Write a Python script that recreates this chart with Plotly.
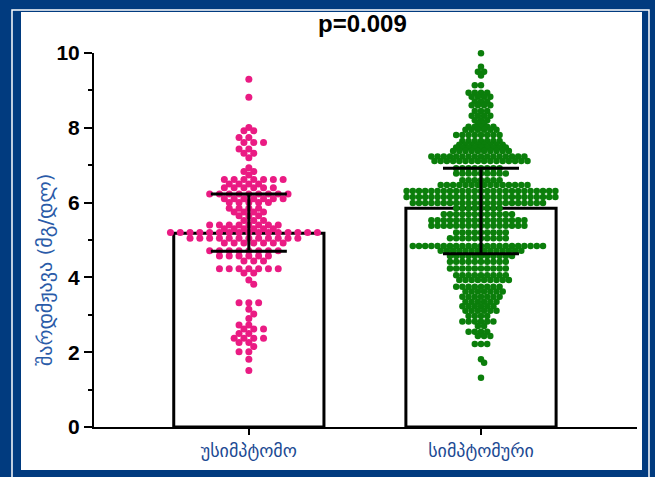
import numpy as np
import plotly.graph_objects as go

# ---------------- data ----------------
categories = ["უსიმპტომო", "სიმპტომური"]
bar_values = [5.18, 5.85]          # bar height (central value)
err_upper = [6.23, 6.92]           # upper whisker
err_lower = [4.70, 4.63]           # lower whisker

pink_levels = [9.30, 8.82, 8.01, 7.92, 7.74, 7.61, 7.43, 7.32, 7.20, 6.93, 6.83, 6.74,
               6.62, 6.50, 6.40, 6.23, 6.10, 6.00, 5.85, 5.75, 5.65, 5.52, 5.40, 5.30,
               5.20, 5.05, 4.92, 4.71, 4.57, 4.44, 4.23, 4.12,
               3.93, 3.82, 3.32, 3.15, 3.02, 2.90, 2.73, 2.62, 2.50, 2.37, 2.26, 2.15,
               2.01, 1.81, 1.51]
pink_counts = [1, 1, 1, 2, 2, 3, 2, 2, 1, 1, 2, 1,
               7, 4, 6, 9, 7, 5, 4, 4, 3, 3, 8, 6,
               16, 12, 7, 8, 6, 3, 7, 2,
               1, 1, 3, 1, 1, 1, 2, 3, 2, 4, 2, 1,
               2, 1, 1]

green_levels = [9.99, 9.63, 9.50, 9.40, 9.14, 8.94, 8.83, 8.70, 8.60, 8.45, 8.32, 8.20,
                8.12, 8.03, 7.95, 7.81, 7.65, 7.55, 7.47, 7.38,
                7.23, 7.11, 6.92, 6.78, 6.60, 6.47, 6.31, 6.15, 5.99, 5.85, 5.69, 5.53,
                5.38, 5.20, 5.05, 4.84, 4.71, 4.57, 4.42,
                4.24, 4.06, 3.93, 3.75, 3.62, 3.48, 3.35, 3.23, 3.11, 2.97, 2.82, 2.70,
                2.55, 2.43, 2.22, 1.81, 1.72, 1.32]
green_counts = [1, 1, 2, 1, 2, 4, 4, 3, 4, 3, 4, 3,
                2, 5, 6, 8, 7, 8, 9, 10,
                16, 16, 8, 9, 7, 15, 25, 25, 22, 8, 12, 16,
                16, 9, 10, 22, 14, 11, 10,
                10, 9, 9, 8, 7, 7, 6, 6, 6, 4, 6, 2,
                4, 3, 3, 1, 1, 1]

y_ticks = [0, 2, 4, 6, 8, 10]

# ---------------- geometry ----------------
W, H = 655, 477
ML, MR, MT, MB = 94, 18, 53, 50
XR = [-0.667, 1.672]
YR = [0, 10]
plot_w = W - ML - MR
plot_h = H - MT - MB
px_per_x = plot_w / (XR[1] - XR[0])
px_per_y = plot_h / (YR[1] - YR[0])

PINK = "#EA1B83"
GREEN = "#0B7E0B"
FRAME = "#013B7F"
LABEL_BLUE = "#1C4A93"
TITLE_BLUE = "#2A5BA8"


def swarm(levels, counts, center, step_px, adj_px=5.2):
    """Prism-like dot layout: dots of a row are spaced step_px apart on a
    half-step grid; rows closer than adj_px must not share a column."""
    placed = []  # (y_px, k)
    xs, ys = [], []
    for lvl, n in sorted(zip(levels, counts), key=lambda t: -t[0]):
        ypx = lvl * px_per_y
        blocked = set(k for (yy, k) in placed if 0.5 <= abs(yy - ypx) < adj_px)
        used = []
        side = 1
        for _ in range(n):
            best = None
            a = 0
            while best is None:
                cands = [0] if a == 0 else [a * side, -a * side]
                for k in cands:
                    if k not in blocked and all(abs(k - u) >= 2 for u in used):
                        best = k
                        break
                a += 1
            used.append(best)
            side = -side
        for k in used:
            placed.append((ypx, k))
            xs.append(center + k * (step_px / 2) / px_per_x)
            ys.append(lvl)
    return xs, ys


px_, py_ = swarm(pink_levels, pink_counts, 0, 9.8)
gx_, gy_ = swarm(green_levels, green_counts, 1, 6.2)

fig = go.Figure()
fig.add_trace(go.Bar(
    x=[0, 1], y=bar_values, width=0.647,
    marker=dict(color="white", line=dict(color="black", width=3)),
    hoverinfo="skip", showlegend=False))
fig.add_trace(go.Scatter(
    x=px_, y=py_, mode="markers", cliponaxis=False,
    marker=dict(size=7, color=PINK, line=dict(width=0)),
    hoverinfo="skip", showlegend=False))
fig.add_trace(go.Scatter(
    x=gx_, y=gy_, mode="markers", cliponaxis=False,
    marker=dict(size=6.5, color=GREEN, line=dict(width=0)),
    hoverinfo="skip", showlegend=False))
fig.add_trace(go.Scatter(
    x=[0, 1], y=bar_values, mode="markers",
    marker=dict(size=1, color="rgba(0,0,0,0)"),
    error_y=dict(type="data", symmetric=False,
                 array=[u - m for u, m in zip(err_upper, bar_values)],
                 arrayminus=[m - l for m, l in zip(bar_values, err_lower)],
                 color="black", thickness=3, width=38),
    hoverinfo="skip", showlegend=False))


def pxx(px):
    return (px - ML) / plot_w


def pyy(py):
    return (H - MB - py) / plot_h


shapes = [
    dict(type="rect", xref="paper", yref="paper", layer="below",
         x0=pxx(21), x1=pxx(642), y0=pyy(470), y1=pyy(12),
         fillcolor="white", line=dict(width=0)),
    dict(type="rect", xref="paper", yref="paper", layer="below",
         x0=pxx(12), x1=pxx(649), y0=pyy(490), y1=pyy(10),
         fillcolor="rgba(0,0,0,0)", line=dict(color="white", width=1.5)),
]

fig.update_layout(
    width=W, height=H,
    margin=dict(l=ML, r=MR, t=MT, b=MB, pad=0),
    paper_bgcolor=FRAME, plot_bgcolor="rgba(0,0,0,0)",
    shapes=shapes,
    bargap=0,
    hovermode=False,
    xaxis=dict(range=XR, tickvals=[0, 1], ticktext=categories,
               showline=True, linecolor="black", linewidth=2,
               ticks="outside", ticklen=6, tickwidth=2, tickcolor="black",
               showgrid=False, zeroline=False, fixedrange=True,
               tickfont=dict(family="DejaVu Sans", size=18, color=LABEL_BLUE)),
    yaxis=dict(range=YR, tickvals=y_ticks,
               showline=True, linecolor="black", linewidth=2,
               ticks="outside", ticklen=8, tickwidth=2, tickcolor="black",
               minor=dict(ticks="outside", ticklen=4, tickwidth=2, dtick=1,
                          tickcolor="black", showgrid=False),
               showgrid=False, zeroline=False, fixedrange=True,
               tickfont=dict(family="Liberation Sans", size=21, color="black",
                             weight="bold")),
    annotations=[
        dict(text="p=0.009", xref="paper", yref="paper",
             x=pxx(362), y=pyy(24), xanchor="center", yanchor="middle",
             showarrow=False,
             font=dict(family="Liberation Sans", size=24, color="black",
                       weight="bold")),
        dict(text="შარდმჟავა (მგ/დლ)", xref="paper", yref="paper",
             x=pxx(45), y=pyy(270), xanchor="center", yanchor="middle",
             textangle=-90, showarrow=False,
             font=dict(family="DejaVu Sans", size=20, color=TITLE_BLUE)),
    ],
)

fig.write_html("out.html",
               config={"displayModeBar": False, "staticPlot": True},
               post_script="document.body.style.margin='0';"
                           "document.body.style.overflow='hidden';")
